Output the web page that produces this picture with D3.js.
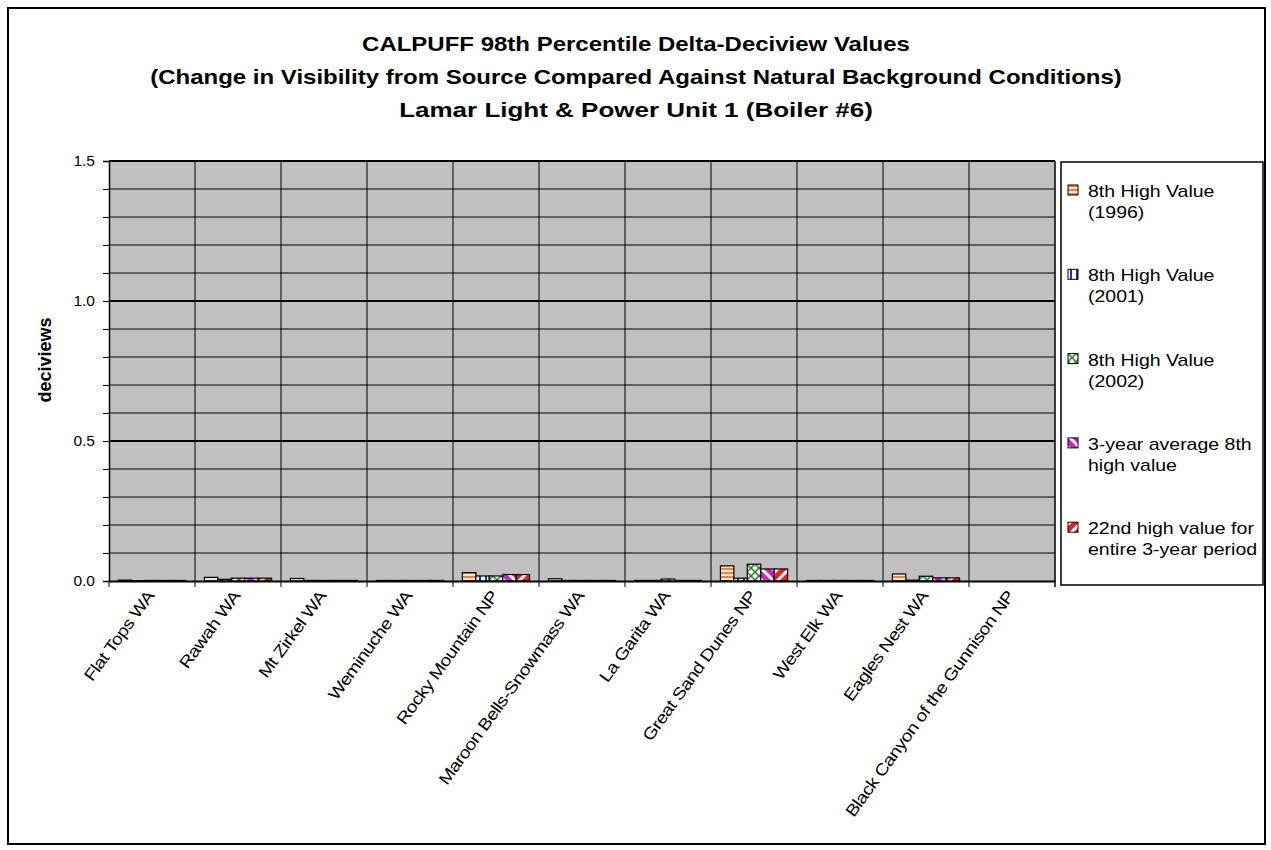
<!DOCTYPE html>
<html>
<head>
<meta charset="utf-8">
<script src="https://cdn.jsdelivr.net/npm/d3@7"></script>
<style>
  body { margin: 0; background: #fff; }
  text { font-family: Arial, "Liberation Sans", sans-serif; }
</style>
</head>
<body>
<svg id="chart" width="1271" height="850"></svg>
<script>
const categories = ["Flat Tops WA", "Rawah WA", "Mt Zirkel WA", "Weminuche WA", "Rocky Mountain NP",
  "Maroon Bells-Snowmass WA", "La Garita WA", "Great Sand Dunes NP", "West Elk WA", "Eagles Nest WA",
  "Black Canyon of the Gunnison NP"];
const seriesNames = ["8th High Value (1996)", "8th High Value (2001)", "8th High Value (2002)",
  "3-year average 8th high value", "22nd high value for entire 3-year period"];
const legendLines = [["8th High Value", "(1996)"], ["8th High Value", "(2001)"], ["8th High Value", "(2002)"],
  ["3-year average 8th", "high value"], ["22nd high value for", "entire 3-year period"]];
const high1996 = [0.003, 0.013, 0.009, 0.002, 0.030, 0.008, 0.002, 0.054, 0.002, 0.025, 0];
const high2001 = [0.001, 0.006, 0.002, 0.002, 0.018, 0.002, 0.002, 0.010, 0.002, 0.003, 0];
const high2002 = [0.002, 0.010, 0.002, 0.002, 0.018, 0.002, 0.007, 0.060, 0.002, 0.017, 0];
const avg3yr = [0.002, 0.010, 0.002, 0.002, 0.023, 0.002, 0.002, 0.043, 0.002, 0.011, 0];
const high22nd = [0.002, 0.010, 0.002, 0.002, 0.023, 0.002, 0.002, 0.043, 0.002, 0.011, 0];
const yTicks = [0, 0.5, 1.0, 1.5];
const titleLines = ["CALPUFF 98th Percentile Delta-Deciview Values",
  "(Change in Visibility from Source Compared Against Natural Background Conditions)",
  "Lamar Light & Power Unit 1 (Boiler #6)"];

const seriesData = [high1996, high2001, high2002, avg3yr, high22nd];

const svg = d3.select("#chart");
const plotL = 109, plotR = 1055, plotT = 161, plotB = 581;

// outer frame
svg.append("rect").attr("x", 8).attr("y", 8).attr("width", 1257).attr("height", 836)
  .style("fill", "white").style("stroke", "black").style("stroke-width", 2);

// patterns
const defs = svg.append("defs");
const p1 = defs.append("pattern").attr("id", "pat0").attr("patternUnits", "userSpaceOnUse")
  .attr("width", 4).attr("height", 4);
p1.append("rect").attr("width", 4).attr("height", 4).style("fill", "#fde6c8");
p1.append("rect").attr("width", 4).attr("height", 2).style("fill", "#ec8448");

const p2 = defs.append("pattern").attr("id", "pat1").attr("patternUnits", "userSpaceOnUse")
  .attr("width", 6).attr("height", 6);
p2.append("rect").attr("width", 6).attr("height", 6).style("fill", "white");
p2.append("rect").attr("x", 2).attr("width", 2).attr("height", 6).style("fill", "#2030c0");

const p3 = defs.append("pattern").attr("id", "pat2").attr("patternUnits", "userSpaceOnUse")
  .attr("width", 8).attr("height", 8);
p3.append("rect").attr("width", 8).attr("height", 8).style("fill", "white");
p3.append("path").attr("d", "M0,0L8,8M8,0L0,8").style("stroke", "#208020").style("stroke-width", 1.5);

const p4 = defs.append("pattern").attr("id", "pat3").attr("patternUnits", "userSpaceOnUse")
  .attr("width", 8).attr("height", 8).attr("patternTransform", "rotate(-45)");
p4.append("rect").attr("width", 8).attr("height", 8).style("fill", "#cc22cc");
p4.append("rect").attr("width", 3).attr("height", 8).style("fill", "white");

const p5 = defs.append("pattern").attr("id", "pat4").attr("patternUnits", "userSpaceOnUse")
  .attr("width", 8).attr("height", 8).attr("patternTransform", "rotate(45)");
p5.append("rect").attr("width", 8).attr("height", 8).style("fill", "#e82020");
p5.append("rect").attr("width", 3).attr("height", 8).style("fill", "white");

// scales
const x = d3.scaleBand().domain(categories).range([plotL, plotR]);
const x1 = d3.scaleBand().domain(d3.range(5)).range([0, x.bandwidth()]).paddingOuter(0.7);
const y = d3.scaleLinear().domain([0, 1.5]).range([plotB, plotT]);

// plot area
svg.append("rect").attr("x", plotL).attr("y", plotT).attr("width", plotR - plotL).attr("height", plotB - plotT)
  .style("fill", "#c0c0c0");

// gridlines
const minor = d3.range(1, 15).map(d => d / 10);
svg.append("g").selectAll("line").data(minor).enter().append("line")
  .attr("x1", plotL).attr("x2", plotR)
  .attr("y1", d => y(d)).attr("y2", d => y(d))
  .style("stroke", "black").style("stroke-width", d => Math.abs(d * 2 - Math.round(d * 2)) < 1e-6 ? 2 : 1);
svg.append("line").attr("x1", plotL).attr("x2", plotR).attr("y1", y(1.5)).attr("y2", y(1.5))
  .style("stroke", "black").style("stroke-width", 2);

// category dividers
svg.append("g").selectAll("line").data(categories.slice(1)).enter().append("line")
  .attr("x1", d => x(d)).attr("x2", d => x(d))
  .attr("y1", plotT).attr("y2", plotB + 6)
  .style("stroke", "black").style("stroke-width", 1);
svg.append("line").attr("x1", plotR).attr("x2", plotR).attr("y1", plotT).attr("y2", plotB + 6)
  .style("stroke", "black").style("stroke-width", 1.5);

// bars
const groups = svg.append("g").selectAll("g").data(categories).enter().append("g")
  .attr("transform", d => `translate(${x(d)} 0)`);
groups.selectAll("rect").data((d, ci) => seriesData.map((s, si) => ({ si, v: s[ci] })))
  .enter().append("rect")
  .attr("x", d => x1(d.si))
  .attr("width", x1.bandwidth())
  .attr("y", d => y(d.v))
  .attr("height", d => y(0) - y(d.v))
  .style("fill", d => `url(#pat${d.si})`)
  .style("stroke", d => d.v > 0 ? "black" : "none")
  .style("stroke-width", 1.2);

// axes
const yAxis = d3.axisLeft(y).tickValues(d3.range(0, 16).map(d => d / 10)).tickSize(6)
  .tickFormat(d => yTicks.some(t => Math.abs(t - d) < 1e-6) ? d3.format(".1f")(d) : "");
const ya = svg.append("g").attr("transform", `translate(${plotL} 0)`).call(yAxis);
ya.select(".domain").style("stroke-width", 1.5);
ya.selectAll("text").style("font-size", "15.5px").style("fill", "#000").attr("x", -14);

const xAxis = d3.axisBottom(x).tickSize(0).tickFormat("");
const xa = svg.append("g").attr("transform", `translate(0 ${plotB})`).call(xAxis);
xa.select(".domain").style("stroke-width", 2);

svg.append("line").attr("x1", plotL).attr("x2", plotL).attr("y1", plotB).attr("y2", plotB + 6)
  .style("stroke", "black");

svg.append("g").selectAll("text").data(categories).enter().append("text")
  .attr("transform", d => `translate(${x(d) + x.bandwidth() / 2 + 3} ${plotB + 15}) rotate(-54) scale(1.17 1)`)
  .attr("text-anchor", "end")
  .style("font-size", "16.5px")
  .style("letter-spacing", "-0.5px")
  .text(d => d);

// y label
svg.append("text").attr("transform", `translate(51 360) rotate(-90)`)
  .attr("text-anchor", "middle").style("font-size", "18px").style("font-weight", "bold")
  .text("deciviews");

// title
svg.append("g").selectAll("text").data(titleLines).enter().append("text")
  .attr("transform", (d, i) => `translate(636 ${51 + i * 33}) scale(${i === 2 ? 1.3 : 1.2} 1)`)
  .attr("text-anchor", "middle").style("font-size", "20px").style("font-weight", "bold")
  .text(d => d);

// legend
const lg = svg.append("g");
lg.append("rect").attr("x", 1061).attr("y", 162).attr("width", 202).attr("height", 423)
  .style("fill", "white").style("stroke", "black").style("stroke-width", 1.5);
const items = lg.selectAll("g").data(seriesNames).enter().append("g")
  .attr("transform", (d, i) => `translate(1068 ${185 + i * 84.3})`);
items.append("rect").attr("width", 10).attr("height", 10)
  .style("fill", (d, i) => `url(#pat${i})`).style("stroke", "black");
items.each(function (d, i) {
  d3.select(this).selectAll("text").data(legendLines[i]).enter().append("text")
    .attr("transform", (t, j) => `translate(20 ${12 + j * 21}) scale(1.22 1)`)
    .style("font-size", "16px")
    .text(t => t);
});
</script>
</body>
</html>
